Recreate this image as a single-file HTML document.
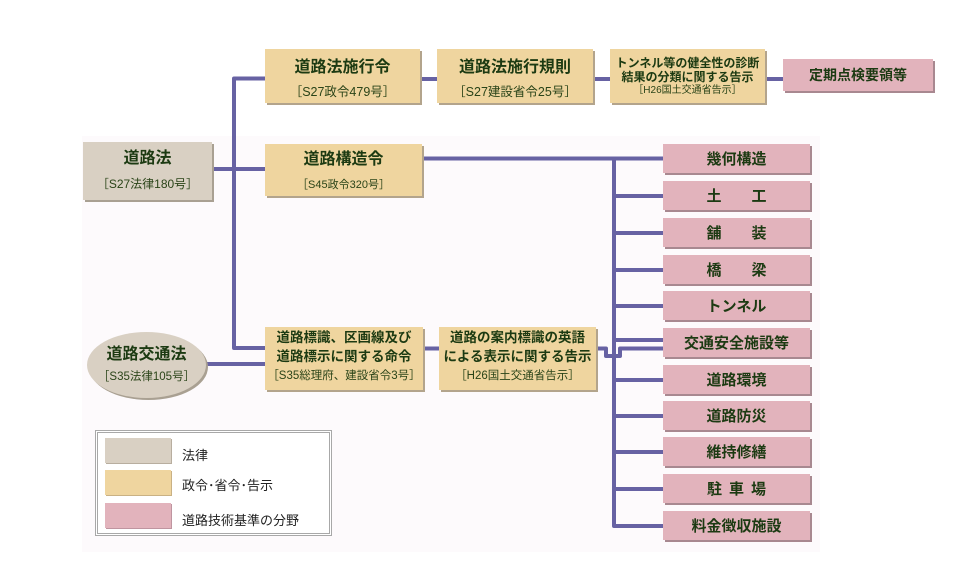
<!DOCTYPE html>
<html><head><meta charset="utf-8">
<style>
html,body{margin:0;padding:0;background:#fff;}
body{width:959px;height:577px;position:relative;overflow:hidden;font-family:"Liberation Sans","Noto Sans CJK JP",sans-serif;}
.bg{position:absolute;left:82px;top:136px;width:738px;height:416px;background:#fdfafc;}
.box{position:absolute;box-shadow:2px 2px 0 #b3a48c;}
.tan{background:#efd59f;}
.law{background:#d9d0c3;box-shadow:2px 2px 0 #a9a092;}
.pink{background:#e2b3bc;box-shadow:2px 2px 0 #a88890;}
.l{position:absolute;left:0;right:0;text-align:center;white-space:nowrap;color:#1c3a12;}
.ti{font-weight:bold;font-size:16px;line-height:20px;}
.su{font-size:12.5px;line-height:20px;color:#2a4418;}
.pk{display:flex;align-items:center;justify-content:center;font-weight:bold;font-size:15px;color:#1c3a12;white-space:pre;}
svg{position:absolute;left:0;top:0;}
.leg{position:absolute;left:95px;top:430px;width:231px;height:100px;border:3px double #a8a8a8;background:#fff;}
.sw{position:absolute;left:7px;width:66px;height:25px;}
.lt{position:absolute;left:84px;font-size:13px;line-height:16px;color:#222;}
</style></head><body>
<div class="bg"></div>

<svg width="959" height="577" viewBox="0 0 959 577">
<g fill="none" stroke="#6762a3" stroke-width="4" stroke-linejoin="round">
<path d="M265 78.5 H234 V348 H265"/>
<path d="M212 169 H265"/>
<path d="M420 79 H437 M593 79 H610 M765 79 H783"/>
<path d="M206 364 H265"/>
<path d="M423 348.5 H439"/>
<path d="M422 158.5 H663"/>
<path d="M614 158.5 V526 H663"/>
<path d="M614 196 H663 M614 233 H663 M614 270 H663 M614 306 H663 M614 340 H663 M614 380 H663 M614 416 H663 M614 452 H663 M614 489 H663"/>
<path d="M596 348.5 H606 V356 H620 V348.5 H663"/>
</g>
</svg>

<!-- Top row -->
<div class="box tan" style="left:265px;top:49px;width:155px;height:54px;">
  <div class="l ti" style="top:9px;">道路法施行令</div>
  <div class="l su" style="top:33px;">［S27政令479号］</div>
</div>
<div class="box tan" style="left:437px;top:49px;width:156px;height:54px;">
  <div class="l ti" style="top:9px;">道路法施行規則</div>
  <div class="l su" style="top:33px;">［S27建設省令25号］</div>
</div>
<div class="box tan" style="left:610px;top:49px;width:155px;height:54px;">
  <div class="l" style="top:7px;font-weight:bold;font-size:12px;line-height:14px;">トンネル等の健全性の診断</div>
  <div class="l" style="top:21px;font-weight:bold;font-size:12px;line-height:14px;">結果の分類に関する告示</div>
  <div class="l" style="top:36px;font-size:10px;line-height:12px;color:#2a4418;">［H26国土交通省告示］</div>
</div>
<div class="box pink pk" style="left:783px;top:59px;width:150px;height:32px;font-size:14px;">定期点検要領等</div>

<!-- Law -->
<div class="box law" style="left:83px;top:142px;width:129px;height:58px;">
  <div class="l ti" style="top:7px;">道路法</div>
  <div class="l su" style="top:32px;font-size:12px;">［S27法律180号］</div>
</div>
<div class="box tan" style="left:265px;top:144px;width:157px;height:52px;">
  <div class="l ti" style="top:6px;">道路構造令</div>
  <div class="l su" style="top:31px;font-size:11px;">［S45政令320号］</div>
</div>

<!-- Lower -->
<div class="box law" style="left:87px;top:332px;width:119px;height:66px;border-radius:50%;">
  <div class="l ti" style="top:13px;">道路交通法</div>
  <div class="l su" style="top:35px;font-size:11.5px;">［S35法律105号］</div>
</div>
<div class="box tan" style="left:265px;top:327px;width:158px;height:63px;">
  <div class="l" style="top:2px;font-weight:bold;font-size:13.5px;line-height:18px;">道路標識、区画線及び</div>
  <div class="l" style="top:21px;font-weight:bold;font-size:13.5px;line-height:18px;">道路標示に関する命令</div>
  <div class="l" style="top:40px;font-size:11.5px;line-height:18px;color:#2a4418;">［S35総理府、建設省令3号］</div>
</div>
<div class="box tan" style="left:439px;top:327px;width:157px;height:63px;">
  <div class="l" style="top:2px;font-weight:bold;font-size:13.5px;line-height:18px;">道路の案内標識の英語</div>
  <div class="l" style="top:21px;font-weight:bold;font-size:13.5px;line-height:18px;">による表示に関する告示</div>
  <div class="l" style="top:40px;font-size:11.5px;line-height:18px;color:#2a4418;">［H26国土交通省告示］</div>
</div>

<!-- Pink column -->
<div class="box pink pk" style="left:663px;top:144px;width:147px;height:29px;">幾何構造</div>
<div class="box pink pk" style="left:663px;top:181px;width:147px;height:29px;">土　　工</div>
<div class="box pink pk" style="left:663px;top:218px;width:147px;height:29px;">舗　　装</div>
<div class="box pink pk" style="left:663px;top:255px;width:147px;height:29px;">橋　　梁</div>
<div class="box pink pk" style="left:663px;top:291px;width:147px;height:29px;">トンネル</div>
<div class="box pink pk" style="left:663px;top:328px;width:147px;height:29px;">交通安全施設等</div>
<div class="box pink pk" style="left:663px;top:365px;width:147px;height:29px;">道路環境</div>
<div class="box pink pk" style="left:663px;top:401px;width:147px;height:29px;">道路防災</div>
<div class="box pink pk" style="left:663px;top:437px;width:147px;height:29px;">維持修繕</div>
<div class="box pink pk" style="left:663px;top:474px;width:147px;height:29px;letter-spacing:7px;padding-left:7px;box-sizing:border-box;">駐車場</div>
<div class="box pink pk" style="left:663px;top:511px;width:147px;height:29px;">料金徴収施設</div>

<!-- Legend -->
<div class="leg">
  <div class="sw" style="top:5px;background:#d9d0c3;box-shadow:1px 1px 0 #b8ae9f;"></div>
  <div class="lt" style="top:15px;">法律</div>
  <div class="sw" style="top:37px;background:#efd59f;box-shadow:1px 1px 0 #c9b184;"></div>
  <div class="lt" style="top:45px;">政令･省令･告示</div>
  <div class="sw" style="top:70px;background:#e2b3bc;box-shadow:1px 1px 0 #bf95a0;"></div>
  <div class="lt" style="top:80px;">道路技術基準の分野</div>
</div>
</body></html>
